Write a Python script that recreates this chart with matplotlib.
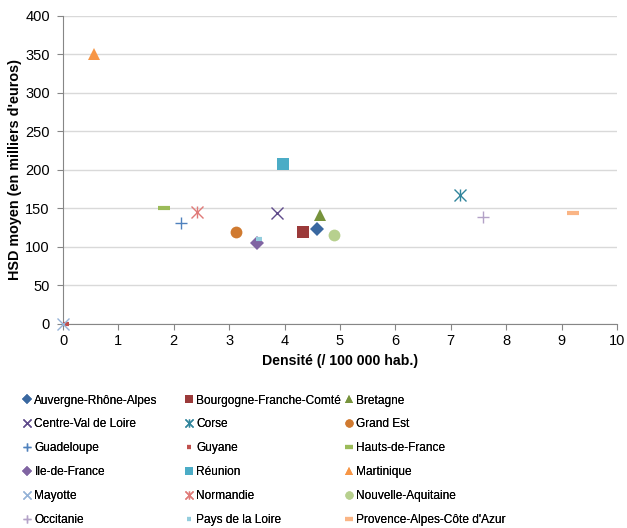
import matplotlib
matplotlib.use('Agg')
import matplotlib.pyplot as plt

plt.rcParams['font.family'] = ['Liberation Sans', 'DejaVu Sans']

regions = ['Auvergne-Rhône-Alpes', 'Bourgogne-Franche-Comté', 'Bretagne',
           'Centre-Val de Loire', 'Corse', 'Grand Est',
           'Guadeloupe', 'Guyane', 'Hauts-de-France',
           'Ile-de-France', 'Réunion', 'Martinique',
           'Mayotte', 'Normandie', 'Nouvelle-Aquitaine',
           'Occitanie', 'Pays de la Loire', "Provence-Alpes-Côte d'Azur"]
densite = [4.58, 4.34, 4.64, 3.87, 7.17, 3.12, 2.13, 0.05, 1.83,
           3.50, 3.97, 0.56, 0.0, 2.42, 4.90, 7.58, 3.53, 9.20]
hsd = [123, 119, 142, 144, 167, 119, 131, 0, 150,
       105, 208, 350, 0, 146, 116, 139, 110, 144]

# excel style markers / colours ('*' = x with a vertical bar)
markers = ['D', 's', '^', 'x', '*', 'o', '+', '_', '_',
           'D', 's', '^', 'x', '*', 'o', '+', '_', '_']
colors = ['#3A68A0', '#9B3A3A', '#77933C', '#5F4B8B', '#31859C', '#D07A30',
          '#4F81BD', '#C0504D', '#9BBB59', '#8064A2', '#4BACC6', '#F79646',
          '#95B3D7', '#E07A78', '#B7D08E', '#B3A2C7', '#93CDDD', '#FAB585']
sizes = [7, 8.5, 8.5, 9, 9, 8.5, 9, 5, 9, 7, 8.5, 8.5, 9, 9, 8.5, 9, 5, 8.5]

fig = plt.figure(figsize=(6.27, 5.28), dpi=100)
ax = fig.add_axes([0.1005, 0.3864, 0.8835, 0.5833])

handles = []
for i in range(len(regions)):
    m = markers[i]
    kw = dict(linestyle='none', color=colors[i], markersize=sizes[i],
              clip_on=False, zorder=3)
    if m == '*':
        h1, = ax.plot(densite[i], hsd[i], marker='x', markeredgewidth=1, **kw)
        h2, = ax.plot(densite[i], hsd[i], marker='|', markeredgewidth=1, **kw)
        handles.append((h1, h2))
    elif m == '_':
        h, = ax.plot(densite[i], hsd[i], marker='_', markeredgewidth=3, **kw)
        handles.append(h)
    elif m in ('x', '+'):
        h, = ax.plot(densite[i], hsd[i], marker=m, markeredgewidth=1, **kw)
        handles.append(h)
    else:
        h, = ax.plot(densite[i], hsd[i], marker=m, markeredgewidth=0, **kw)
        handles.append(h)

ax.set_xlim(0, 10)
ax.set_ylim(0, 400)
ax.set_xticks(range(0, 11))
ax.set_yticks(range(0, 401, 50))
ax.yaxis.grid(True, color='#D9D9D9', linewidth=1)
ax.set_axisbelow(True)
for s in ['top', 'right']:
    ax.spines[s].set_visible(False)
for s in ['left', 'bottom']:
    ax.spines[s].set_color('#868686')
ax.tick_params(axis='both', labelsize=10.5, color='#868686', length=4)
ax.tick_params(axis='y', pad=5.5)
ax.set_xlabel("Densité (/ 100 000 hab.)", fontsize=10.2, fontweight='bold')
ax.set_ylabel("HSD moyen (en milliers d'euros)", fontsize=10.4,
              fontweight='bold', labelpad=2.4)

# legend: three columns, filled row by row like excel
col_x = [0.0378, 0.2962, 0.5514]
for c in range(3):
    idx = list(range(c, len(regions), 3))
    leg = fig.legend([handles[i] for i in idx], [regions[i] for i in idx],
                     loc='upper left', bbox_to_anchor=(col_x[c], 0.2528),
                     frameon=False, fontsize=8.6, handlelength=0.6,
                     handletextpad=0.3, labelspacing=1.0,
                     borderpad=0, borderaxespad=0, markerscale=0.7)
    fig.add_artist(leg)

fig.savefig('out.png', dpi=100)
